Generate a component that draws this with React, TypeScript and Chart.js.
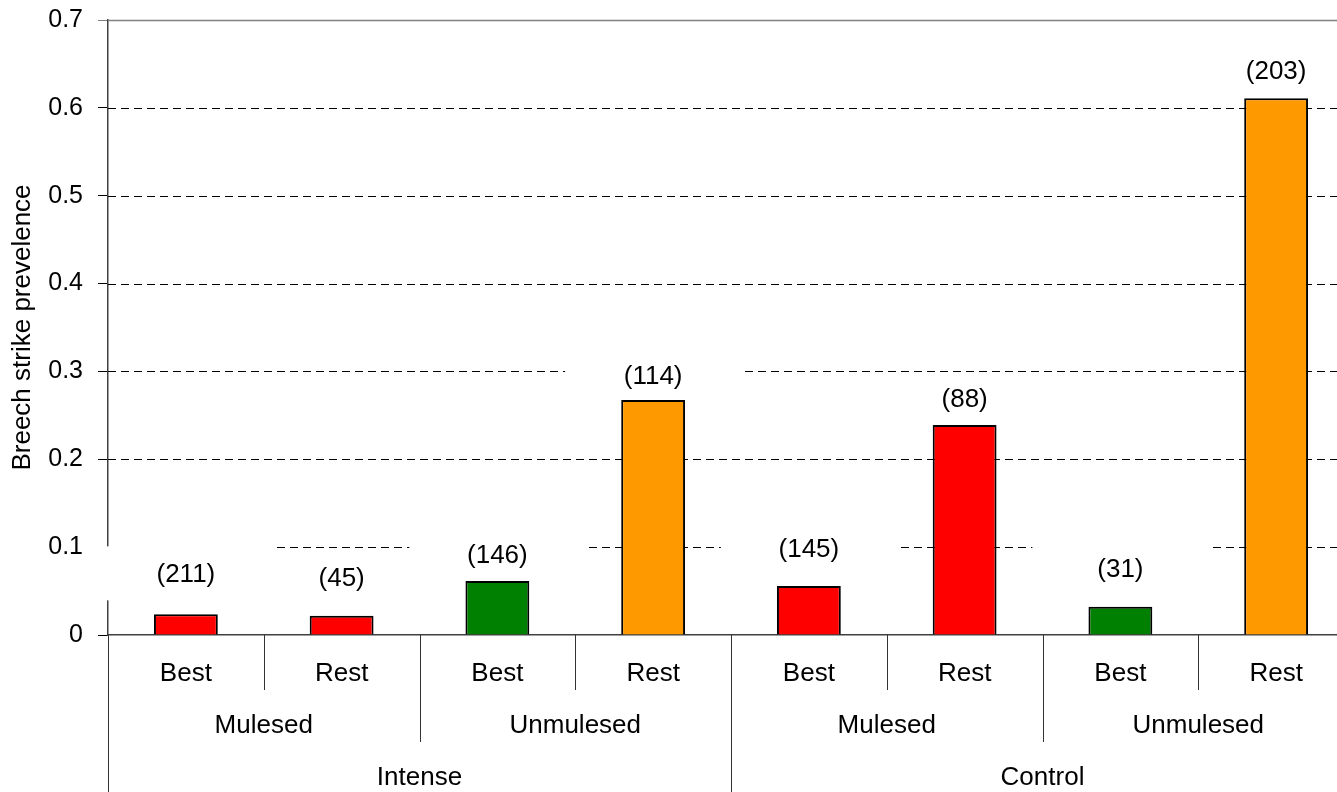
import React, { useEffect, useRef } from "react";
import { Chart, registerables } from "chart.js";

Chart.register(...registerables);

// ---- data ----
const subgroups = ["Best", "Rest", "Best", "Rest", "Best", "Rest", "Best", "Rest"];
const treatments = ["Mulesed", "Unmulesed", "Mulesed", "Unmulesed"];
const regimes = ["Intense", "Control"];
const prevalence = [0.0235, 0.022, 0.0615, 0.2675, 0.0558, 0.239, 0.0322, 0.611];
const sampleSizes = [211, 45, 146, 114, 145, 88, 31, 203];
const barColors = ["#FF0000", "#FF0000", "#008000", "#FF9900", "#FF0000", "#FF0000", "#008000", "#FF9900"];
const yMin = 0;
const yMax = 0.7;
const yStep = 0.1;
const yTitle = "Breech strike prevelence";

// ---- style ----
const FONT = '"Liberation Sans", Arial, Helvetica, sans-serif';
const labelLift = [40, 37, 25, 23, 36, 25, 37, 26];
const CANVAS_W = 1354;
const CANVAS_H = 800;
const X_AXIS_H = 165;
const Y_AXIS_W = 108;
const TOP_PAD = 20;

const decorPlugin = {
  id: "decor",
  beforeDatasetsDraw(chart: any) {
    const { ctx, chartArea } = chart;
    const y = chart.scales.y;
    ctx.save();
    y.ticks.forEach((t: any) => {
      if (Math.abs(t.value) < 1e-9) return;
      const py = Math.round(y.getPixelForValue(t.value)) + 0.5;
      ctx.beginPath();
      if (Math.abs(t.value - yMax) < 1e-9) {
        ctx.setLineDash([]);
        ctx.strokeStyle = "#808080";
        ctx.lineWidth = 1.5;
      } else {
        ctx.setLineDash([8, 5]);
        ctx.strokeStyle = "#000";
        ctx.lineWidth = 1;
      }
      ctx.moveTo(chartArea.left, py);
      ctx.lineTo(chartArea.right, py);
      ctx.stroke();
    });
    ctx.setLineDash([]);
    ctx.fillStyle = "#fff";
    const meta = chart.getDatasetMeta(0);
    meta.data.forEach((bar: any, i: number) => {
      const cx = bar.x;
      const cy = bar.y - labelLift[i];
      ctx.fillRect(cx - 88, cy - 28, 176, 54);
    });
    ctx.restore();
  },
  afterDatasetsDraw(chart: any) {
    const { ctx, chartArea } = chart;
    const x = chart.scales.x;
    const meta = chart.getDatasetMeta(0);
    ctx.save();
    ctx.fillStyle = "#000";
    ctx.textAlign = "center";
    ctx.textBaseline = "middle";
    ctx.font = `26px ${FONT}`;
    meta.data.forEach((bar: any, i: number) => {
      ctx.fillText(`(${sampleSizes[i]})`, bar.x, bar.y - labelLift[i]);
    });

    const bottom = chartArea.bottom;
    const n = subgroups.length;
    const boundary = (k: number) => {
      if (k === 0) return chartArea.left;
      if (k === n) return chartArea.right;
      return (x.getPixelForValue(k - 1) + x.getPixelForValue(k)) / 2;
    };
    // separators
    ctx.strokeStyle = "#333";
    ctx.lineWidth = 1;
    for (let k = 0; k <= n; k++) {
      let len = 55;
      if (k % 4 === 0) len = CANVAS_H;
      else if (k % 2 === 0) len = 107;
      const px = Math.round(boundary(k)) + 0.5;
      ctx.beginPath();
      ctx.moveTo(px, bottom);
      ctx.lineTo(px, bottom + len);
      ctx.stroke();
    }
    // row labels
    subgroups.forEach((s, i) => {
      ctx.fillText(s, x.getPixelForValue(i), bottom + 39);
    });
    treatments.forEach((s, j) => {
      const cx = (boundary(2 * j) + boundary(2 * j + 2)) / 2;
      ctx.fillText(s, cx, bottom + 91);
    });
    regimes.forEach((s, r) => {
      const cx = (boundary(4 * r) + boundary(4 * r + 4)) / 2;
      ctx.fillText(s, cx, bottom + 143);
    });
    ctx.restore();
  },
};

export default function App() {
  const ref = useRef<HTMLCanvasElement | null>(null);
  useEffect(() => {
    if (!ref.current) return;
    const chart = new Chart(ref.current, {
      type: "bar",
      data: {
        labels: subgroups,
        datasets: [
          {
            data: prevalence,
            backgroundColor: barColors,
            borderColor: "#000",
            borderWidth: 2,
            barPercentage: 0.41,
            categoryPercentage: 1,
          },
        ],
      },
      options: {
        responsive: false,
        animation: false,
        devicePixelRatio: 1,
        layout: { padding: { top: TOP_PAD, left: 0, right: 0, bottom: 0 } },
        plugins: {
          legend: { display: false },
          tooltip: { enabled: false },
          title: { display: false },
        },
        scales: {
          x: {
            type: "category",
            offset: true,
            grid: { display: false, drawOnChartArea: false, drawTicks: false },
            border: { display: true, color: "#404040", width: 1.5 },
            ticks: { display: false },
            afterFit: (s: any) => {
              s.height = X_AXIS_H;
              s.paddingLeft = 0;
              s.paddingRight = 0;
            },
          },
          y: {
            min: yMin,
            max: yMax,
            ticks: {
              stepSize: yStep,
              color: "#000",
              padding: 15,
              font: { family: FONT, size: 25 },
              callback: (v: any) => (Math.abs(Number(v)) < 1e-9 ? "0" : Number(v).toFixed(1)),
            },
            grid: {
              drawOnChartArea: false,
              drawTicks: true,
              tickLength: 10,
              tickWidth: 1,
              tickColor: (c: any) =>
                c.tick && Math.abs(c.tick.value - yMax) < 1e-9 ? "#808080" : "#000",
            },
            border: { display: true, color: "#404040", width: 1.5 },
            title: {
              display: true,
              text: yTitle,
              color: "#000",
              font: { family: FONT, size: 26 },
              padding: { top: 7, bottom: 0 },
            },
            afterFit: (s: any) => {
              s.width = Y_AXIS_W;
              s.paddingTop = 0;
              s.paddingBottom = 0;
            },
          },
        },
      },
      plugins: [decorPlugin],
    } as any);
    return () => chart.destroy();
  }, []);

  return (
    <div
      style={{
        position: "absolute",
        left: 0,
        top: 0,
        width: 1337,
        height: 792,
        overflow: "hidden",
        background: "#fff",
      }}
    >
      <canvas
        ref={ref}
        width={CANVAS_W}
        height={CANVAS_H}
        style={{ display: "block", width: CANVAS_W, height: CANVAS_H }}
      />
    </div>
  );
}
